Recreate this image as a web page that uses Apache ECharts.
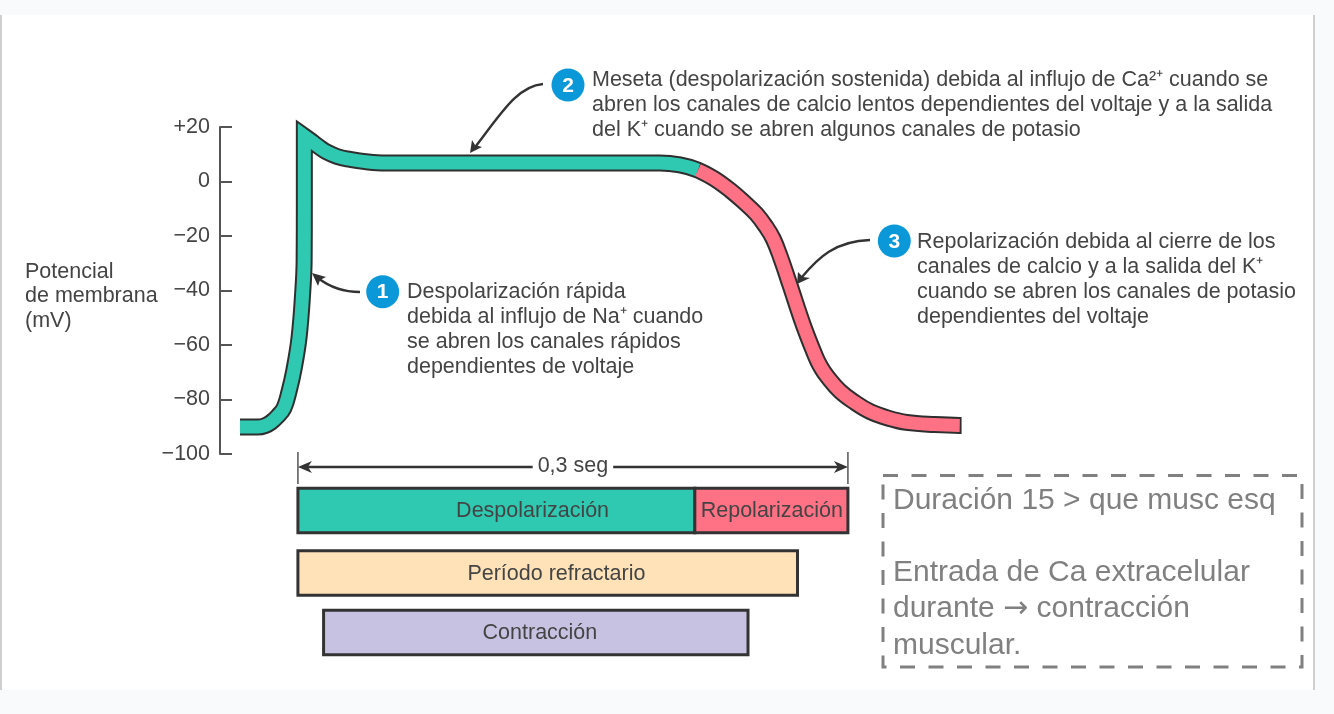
<!DOCTYPE html>
<html>
<head>
<meta charset="utf-8">
<title>Potencial de membrana</title>
<style>
    html, body { margin: 0; padding: 0; background: #f9fafc; }
    #chart { width: 1334px; height: 714px; }
</style>
<script src="https://cdn.jsdelivr.net/npm/echarts@6/dist/echarts.min.js"></script>
</head>
<body>
<div id="chart"></div>
<script>
// curve (time in ms from the start of the 0,3 seg span, potential in mV)
// the peak is listed twice so the smoothing keeps it as a sharp corner
const curveTime = [-31.6, -21.8, -18, -14.7, -10.9, -7.6, -4.9, -2.2, 0.65, 2.7, 3.4, 3.5, 3.5, 3.5,
    7.6, 11.5, 15.8, 21.3, 26.7, 40.9, 51.8, 110, 197.4, 208.3, 218.2,
    226.9, 235.6, 243.2, 250, 255.2, 259.3, 263.4, 268.3, 275.7, 282.5, 285.2, 288.5, 295.6, 303.8, 312, 321.8, 332, 347.4, 361, 362];
const curveMv = [-90.1, -90.1, -89.6, -88.4, -86, -83.1, -77.2, -69.2, -57.1, -39.8, -28.8, -6.8, 16.7, 16.7,
    14.7, 12.7, 10.8, 9.2, 8.3, 7, 6.8, 6.8, 6.8, 6.1, 4.2,
    1.1, -3.1, -7.5, -11.9, -16.5, -21.1, -28.1, -37.8, -52.7, -64.4, -68.1, -71.4, -76.9, -81.1, -84.4, -86.8, -88.4, -89.2, -89.5, -89.5];
const repolIndex = 24;

const yTicks = { min: -100, max: 20, step: 20 };

// phase bars below the curve
const barRows = ['Fases', 'Refractario', 'Contraccion'];
const barNames = ['Despolarización', 'Repolarización', 'Período refractario', 'Contracción'];
const barStart = [0, 216.5, 0, 14];
const barEnd = [216.5, 300, 272.5, 245.5];
const barRow = [0, 0, 1, 2];
const barLabelAt = [128, 258.5, 141, 132];
const barColors = ['#2fc9b2', '#ff7286', '#ffe2b8', '#c8c2e2'];
const spanTime = [0, 300];
const spanLabel = '0,3 seg';

const axisTitle = ['Potencial', 'de membrana', '(mV)'];
const noteOne = ['Despolarización rápida', 'debida al influjo de Na⁺ cuando', 'se abren los canales rápidos', 'dependientes de voltaje'];
const noteTwo = ['Meseta (despolarización sostenida) debida al influjo de Ca²⁺ cuando se', 'abren los canales de calcio lentos dependientes del voltaje y a la salida', 'del K⁺ cuando se abren algunos canales de potasio'];
const noteThree = ['Repolarización debida al cierre de los', 'canales de calcio y a la salida del K⁺', 'cuando se abren los canales de potasio', 'dependientes del voltaje'];
const boxFirst = ['Duración 15 > que musc esq'];
const boxRest = ['Entrada de Ca extracelular', 'durante {arrow|→} contracción', 'muscular.'];

document.addEventListener('DOMContentLoaded', function () {
    const fontName = '"Liberation Sans", Arial, sans-serif';
    const inkColor = '#444444';
    const lineColor = '#333333';
    const labelSize = 21.5;
    const points = curveTime.map((t, i) => [t, curveMv[i]]);

    // same time scale for both grids: 300 ms = 550 px
    const timeMin = -42.5;
    const timeMax = 362;
    const gridLeft = 220;
    const gridWidth = (timeMax - timeMin) * 550 / 300;

    const textLines = (lines, x, y, gap, size, fill) => lines.map((line, i) => ({
        type: 'text',
        silent: true,
        style: {
            x: x,
            y: y + 1.5 + i * gap,
            text: line,
            fill: fill || inkColor,
            font: size + 'px ' + fontName,
            verticalAlign: 'middle',
            rich: { arrow: { fontFamily: 'DejaVu Sans', fontSize: size, fill: fill || inkColor } }
        }
    }));

    const badge = (x, y, num) => [
        { type: 'circle', silent: true, shape: { cx: x, cy: y, r: 16.5 }, style: { fill: '#0a98d8' } },
        {
            type: 'text',
            silent: true,
            style: { x: x, y: y + 1, text: num, fill: '#ffffff', font: 'bold 21px ' + fontName, align: 'center', verticalAlign: 'middle' }
        }
    ];

    // curved pointer: bezier + barbed head
    const pointer = (curve, head) => [
        {
            type: 'bezierCurve',
            silent: true,
            shape: { x1: curve[0], y1: curve[1], cpx1: curve[2], cpy1: curve[3], cpx2: curve[4], cpy2: curve[5], x2: curve[6], y2: curve[7] },
            style: { stroke: lineColor, lineWidth: 2.4, fill: null }
        },
        { type: 'polygon', silent: true, shape: { points: head }, style: { fill: lineColor } }
    ];

    const renderBar = (params, api) => {
        const i = params.dataIndex;
        const left = api.coord([barStart[i], barRow[i]]);
        const right = api.coord([barEnd[i], barRow[i]]);
        const labelPos = api.coord([barLabelAt[i], barRow[i]]);
        const height = 44.5;
        // the middle row sits a little lower than an even spacing
        const nudge = barRow[i] === 1 ? 1.5 : 0;
        return {
            type: 'group',
            children: [
                {
                    type: 'rect',
                    shape: { x: left[0], y: left[1] + nudge - height / 2, width: right[0] - left[0], height: height },
                    style: { fill: barColors[i], stroke: lineColor, lineWidth: 3 }
                },
                {
                    type: 'text',
                    style: {
                        x: labelPos[0],
                        y: labelPos[1] + nudge + 1,
                        text: barNames[i],
                        fill: inkColor,
                        font: labelSize + 'px ' + fontName,
                        align: 'center',
                        verticalAlign: 'middle'
                    }
                }
            ]
        };
    };

    const renderSpan = (params, api) => {
        const y = 467;
        const x0 = api.coord([spanTime[0], 0])[0];
        const x1 = api.coord([spanTime[1], 0])[0];
        const mid = (x0 + x1) / 2;
        return {
            type: 'group',
            children: [
                { type: 'line', shape: { x1: x0, y1: 452, x2: x0, y2: 484 }, style: { stroke: '#555555', lineWidth: 1.5 } },
                { type: 'line', shape: { x1: x1, y1: 452, x2: x1, y2: 484 }, style: { stroke: '#555555', lineWidth: 1.5 } },
                { type: 'line', shape: { x1: x0 + 4, y1: y, x2: x1 - 4, y2: y }, style: { stroke: lineColor, lineWidth: 2.6 } },
                { type: 'polygon', shape: { points: [[x0, y], [x0 + 14, y - 6], [x0 + 10, y], [x0 + 14, y + 6]] }, style: { fill: lineColor } },
                { type: 'polygon', shape: { points: [[x1, y], [x1 - 14, y - 6], [x1 - 10, y], [x1 - 14, y + 6]] }, style: { fill: lineColor } },
                {
                    type: 'text',
                    style: {
                        x: mid,
                        y: y - 1,
                        text: spanLabel,
                        fill: inkColor,
                        font: labelSize + 'px ' + fontName,
                        align: 'center',
                        verticalAlign: 'middle',
                        backgroundColor: '#ffffff',
                        padding: [2, 5]
                    }
                }
            ]
        };
    };

    const graphics = [].concat(
        [
            { type: 'rect', silent: true, z: -10, shape: { x: 0, y: 15, width: 1314, height: 675 }, style: { fill: '#ffffff' } },
            { type: 'rect', silent: true, z: -9, shape: { x: 0, y: 15, width: 2, height: 675 }, style: { fill: '#cfcfcf' } },
            { type: 'rect', silent: true, z: -9, shape: { x: 1313, y: 15, width: 2, height: 675 }, style: { fill: '#cfcfcf' } },
            {
                type: 'rect',
                silent: true,
                shape: { x: 883, y: 475.5, width: 419, height: 191.5 },
                style: { fill: null, stroke: '#808080', lineWidth: 3, lineDash: [15, 13.5] }
            }
        ],
        textLines(axisTitle, 25, 270.5, 24.5, labelSize),
        textLines(noteOne, 407, 291, 25, labelSize),
        textLines(noteTwo, 592, 79, 24.7, labelSize),
        textLines(noteThree, 917, 241, 25, labelSize),
        textLines(boxFirst, 893, 499, 36, 30, '#808080'),
        textLines(boxRest, 893, 571, 36.4, 30, '#808080'),
        badge(382.7, 291.7, '1'),
        badge(568, 85, '2'),
        badge(894.3, 241, '3'),
        pointer([360, 292, 342, 292, 327, 285, 318, 278], [[312, 273], [326, 277], [320, 280], [318, 286]]),
        pointer([543, 84, 518, 86, 502, 112, 476, 146], [[470, 153], [472, 140], [475, 145], [482, 147]]),
        pointer([870, 240, 835, 241, 818, 258, 802, 277], [[797, 284], [798, 272], [803, 277], [810, 278]])
    );

    const curveLine = (data, color, width, z) => ({
        type: 'line',
        xAxisIndex: 0,
        yAxisIndex: 0,
        data: data,
        symbol: 'none',
        smooth: 0.4,
        clip: false,
        silent: true,
        z: z,
        lineStyle: { color: color, width: width, join: 'miter', miterLimit: 20, cap: 'butt' }
    });

    const myChart = echarts.init(document.getElementById('chart'), null, { renderer: 'canvas' });
    myChart.setOption({
        animation: false,
        backgroundColor: 'transparent',
        textStyle: { fontFamily: fontName },
        grid: [
            { left: gridLeft, top: 127, width: gridWidth, height: 327 },
            { left: gridLeft, top: 480, width: gridWidth, height: 183 }
        ],
        xAxis: [
            { type: 'value', gridIndex: 0, min: timeMin, max: timeMax, show: false },
            { type: 'value', gridIndex: 1, min: timeMin, max: timeMax, show: false }
        ],
        yAxis: [
            {
                type: 'value',
                gridIndex: 0,
                min: yTicks.min,
                max: yTicks.max,
                interval: yTicks.step,
                splitLine: { show: false },
                axisLine: { show: true, onZero: false, lineStyle: { color: '#555555', width: 2 } },
                axisTick: { show: true, inside: true, length: 12, lineStyle: { color: '#555555', width: 2 } },
                axisLabel: {
                    color: inkColor,
                    fontSize: labelSize,
                    margin: 10,
                    padding: [2, 0, 0, 0],
                    showMinLabel: true,
                    showMaxLabel: true,
                    formatter: v => (v > 0 ? '+' + v : v < 0 ? '−' + Math.abs(v) : '0')
                }
            },
            { type: 'category', gridIndex: 1, data: barRows, inverse: true, show: false }
        ],
        graphic: { elements: graphics },
        series: [
            curveLine(points, '#2f2f2f', 17, 2),
            curveLine(points.slice(0, repolIndex + 1), '#2fc9b2', 13, 3),
            curveLine(points.slice(repolIndex, -1), '#ff7286', 13, 4),
            {
                type: 'custom',
                xAxisIndex: 1,
                yAxisIndex: 1,
                coordinateSystem: 'cartesian2d',
                clip: false,
                silent: true,
                data: barNames.map((name, i) => [barStart[i], barRow[i]]),
                encode: { x: 0, y: 1 },
                renderItem: renderBar
            },
            {
                type: 'custom',
                xAxisIndex: 1,
                yAxisIndex: 1,
                coordinateSystem: 'cartesian2d',
                clip: false,
                silent: true,
                data: [[spanTime[0], 0]],
                encode: { x: 0, y: 1 },
                renderItem: renderSpan
            }
        ]
    });
});
</script>
</body>
</html>
